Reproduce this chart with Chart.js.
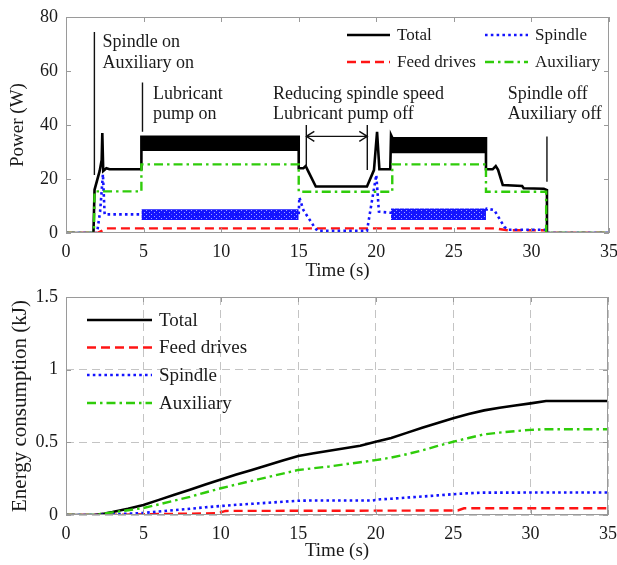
<!DOCTYPE html>
<html>
<head>
<meta charset="utf-8">
<script src="https://cdn.jsdelivr.net/npm/chart.js@4.4.1/dist/chart.umd.min.js"></script>
<style>
    html, body { margin: 0; padding: 0; background: #fff; }
    #wrap { position: relative; width: 617px; height: 565px; }
    canvas { position: absolute; left: 0; }
    #power { top: 0; }
    #energy { top: 282px; }
</style>
</head>
<body>
<div id="wrap">
    <canvas id="power" width="617" height="282"></canvas>
    <canvas id="energy" width="617" height="283"></canvas>
</div>
<script>
// Series names
const seriesNames = ['Total', 'Feed drives', 'Spindle', 'Auxiliary'];

// Power (W) vs time (s)
const totalT = [0, 1.77, 1.84, 2.17, 2.3, 2.34, 2.4, 2.6, 2.8, 4.86, 4.86, 15.0, 15.0, 15.3, 15.45, 15.6, 16.1, 19.4, 19.85, 20.05, 20.2, 20.9, 20.95, 21.05, 27.07, 27.07, 27.5, 27.7, 27.85, 28.15, 29.4, 29.5, 30.8, 31.0, 31.0, 35];
const totalW = [0, 0, 16, 23, 27, 37, 23, 24, 23.6, 23.6, 35.6, 35.6, 24, 24, 24.8, 23, 17.2, 17.2, 23.3, 37.5, 23.6, 23.6, 36.3, 35.1, 35.1, 23.6, 23.6, 24.8, 23.4, 17.8, 17.4, 16.6, 16.4, 15.9, 0, 0];
const feedT = [0, 2.0, 2.3, 2.6, 27.6, 28.5, 30.9, 31.0, 35];
const feedW = [0, 0, 0.8, 1.7, 1.7, 1.0, 1.0, 0, 0];
const spindleT = [0, 2.0, 2.2, 2.38, 2.49, 4.86, 15.0, 15.04, 15.3, 16.0, 16.2, 19.4, 20.0, 20.17, 20.9, 27.07, 27.12, 27.6, 28.25, 28.5, 30.9, 31.0, 35];
const spindleW = [0, 0, 8, 21.8, 6.9, 6.9, 6.9, 13.2, 8.5, 2.3, 0.8, 0.8, 21.5, 7.9, 7.5, 7.5, 9, 8.5, 2.3, 1.2, 1.2, 0, 0];
const auxT = [0, 1.8, 1.84, 4.86, 4.86, 15.0, 15.0, 21.03, 21.03, 27.07, 27.07, 30.95, 30.95, 35];
const auxW = [0, 0, 15.4, 15.4, 25.4, 25.4, 15.3, 15.3, 25.4, 25.4, 15.3, 15.3, 0, 0];

// Fluctuation bands while cutting (min / max of the noisy signal)
const bandStart = [4.86, 20.95];
const bandEnd = [15.0, 27.07];
const totalBandHigh = [35.6, 35.1];
const totalBandLow = [30.4, 29.5];
const spindleBandHigh = [8.8, 9.1];
const spindleBandLow = [4.8, 4.8];

// Energy consumption (kJ) vs time (s), lower plot
const eTotalT = [0, 1.8, 2.5, 3, 4, 5, 6, 7, 8, 9, 10, 11, 12, 13, 14, 15, 16, 17, 18, 19, 20, 21, 22, 23, 24, 25, 26, 27, 28, 29, 30, 31, 35];
const eTotalKJ = [0, 0, 0.01, 0.02, 0.043, 0.069, 0.104, 0.139, 0.174, 0.21, 0.245, 0.278, 0.31, 0.343, 0.375, 0.406, 0.425, 0.442, 0.459, 0.477, 0.504, 0.53, 0.565, 0.6, 0.633, 0.665, 0.695, 0.72, 0.738, 0.753, 0.768, 0.784, 0.784];
const eFeedT = [0, 2, 5, 9.8, 10.3, 25.3, 25.7, 35];
const eFeedKJ = [0, 0, 0.005, 0.012, 0.028, 0.031, 0.046, 0.046];
const eSpindleT = [0, 2, 3, 4, 5, 6, 7, 8, 9, 10, 11, 12, 13, 14, 15, 16, 19.8, 20.3, 21, 22, 23, 24, 25, 26, 27, 35];
const eSpindleKJ = [0, 0, 0.005, 0.009, 0.014, 0.024, 0.034, 0.043, 0.053, 0.062, 0.07, 0.077, 0.084, 0.091, 0.098, 0.1, 0.1, 0.108, 0.112, 0.12, 0.127, 0.135, 0.143, 0.15, 0.154, 0.155];
const eAuxT = [0, 1.8, 3, 4, 5, 6, 7, 8, 9, 10, 11, 12, 13, 14, 15, 16, 17, 18, 19, 20, 21, 22, 23, 24, 25, 26, 27, 28, 29, 30, 31, 35];
const eAuxKJ = [0, 0, 0.018, 0.033, 0.048, 0.073, 0.099, 0.125, 0.155, 0.184, 0.21, 0.235, 0.26, 0.285, 0.31, 0.322, 0.334, 0.349, 0.363, 0.378, 0.395, 0.418, 0.445, 0.475, 0.504, 0.53, 0.555, 0.567, 0.577, 0.586, 0.59, 0.59];

// Tick labels
const timeTickStep = 5;
const powerTickStep = 20;
const energyTickLabels = { 0: '0', 0.5: '0.5', 1: '1', 1.5: '1.5' };

const SERIF = "'Liberation Serif', 'Times New Roman', serif";
const TEXT = '#1a1a1a';

// line styles per series
const styles = [
    { color: '#000000', width: 2.6, dash: [] },
    { color: '#ff1414', width: 2.4, dash: [9, 5] },
    { color: '#1414ff', width: 2.6, dash: [2.6, 3.2] },
    { color: '#2fcc0a', width: 2.4, dash: [9, 4, 2.5, 4] }
];

function pts(ts, vs) {
    return ts.map((t, i) => ({ x: t, y: vs[i] }));
}

function lineSet(idx, ts, vs, order) {
    const s = styles[idx];
    return {
        label: seriesNames[idx],
        data: pts(ts, vs),
        borderColor: s.color,
        borderWidth: s.width,
        borderDash: s.dash,
        pointRadius: 0,
        tension: 0,
        fill: false,
        order: order
    };
}

// speckled blue fill, looks like the dense dotted spindle trace
function dotPattern(color) {
    const c = document.createElement('canvas');
    c.width = 5; c.height = 4;
    const g = c.getContext('2d');
    g.fillStyle = color;
    g.fillRect(0, 0, 5, 4);
    g.fillStyle = 'rgba(255,255,255,0.6)';
    g.fillRect(4, 0, 1, 1);
    g.fillRect(1, 2, 1, 1);
    return g.createPattern(c, 'repeat');
}

// box around the plot + inward tick marks
const frame = {
    id: 'frame',
    afterDraw(chart, args, opts) {
        const { ctx, chartArea: a, scales: { x, y } } = chart;
        const L = 5;
        ctx.save();
        ctx.strokeStyle = opts.color;
        ctx.lineWidth = 1;
        ctx.setLineDash([]);
        ctx.beginPath();
        x.ticks.forEach(t => {
            const px = Math.round(x.getPixelForValue(t.value)) + 0.5;
            ctx.moveTo(px, a.bottom); ctx.lineTo(px, a.bottom - L);
            ctx.moveTo(px, a.top); ctx.lineTo(px, a.top + L);
        });
        y.ticks.forEach(t => {
            const py = Math.round(y.getPixelForValue(t.value)) + 0.5;
            ctx.moveTo(a.left, py); ctx.lineTo(a.left + L, py);
            ctx.moveTo(a.right, py); ctx.lineTo(a.right - L, py);
        });
        ctx.stroke();
        ctx.strokeRect(Math.round(a.left) + 0.5, Math.round(a.top) + 0.5,
            Math.round(a.right - a.left) - 1, Math.round(a.bottom - a.top) - 1);
        ctx.restore();
    }
};

// hand placed legend, styles taken from the datasets
const boxLegend = {
    id: 'boxLegend',
    afterDatasetsDraw(chart, args, opts) {
        const ctx = chart.ctx;
        ctx.save();
        ctx.font = opts.font;
        ctx.textBaseline = 'middle';
        opts.items.forEach(it => {
            const ds = chart.data.datasets[it.index];
            ctx.strokeStyle = ds.borderColor;
            ctx.lineWidth = ds.borderWidth;
            ctx.setLineDash(ds.borderDash || []);
            ctx.beginPath();
            ctx.moveTo(it.x, it.y);
            ctx.lineTo(it.x + opts.lineLen, it.y);
            ctx.stroke();
            ctx.setLineDash([]);
            ctx.fillStyle = TEXT;
            ctx.fillText(ds.label, it.x + opts.lineLen + opts.gap, it.y + 1);
        });
        ctx.restore();
    }
};

// event annotations on the power plot (data coordinates)
const notes = {
    id: 'notes',
    afterDatasetsDraw(chart, args, opts) {
        if (!opts.texts) return;
        const { ctx, scales: { x, y } } = chart;
        const X = v => x.getPixelForValue(v), Y = v => y.getPixelForValue(v);
        ctx.save();
        ctx.strokeStyle = '#111';
        ctx.lineWidth = 1.4;
        ctx.beginPath();
        opts.lines.forEach(([t1, w1, t2, w2]) => {
            ctx.moveTo(X(t1), Y(w1)); ctx.lineTo(X(t2), Y(w2));
        });
        opts.arrows.forEach(([t1, t2, w]) => {
            const x1 = X(t1), x2 = X(t2), py = Y(w), h = 8, d = 5;
            ctx.moveTo(x1, py); ctx.lineTo(x2, py);
            ctx.moveTo(x1 + h, py - d); ctx.lineTo(x1, py); ctx.lineTo(x1 + h, py + d);
            ctx.moveTo(x2 - h, py - d); ctx.lineTo(x2, py); ctx.lineTo(x2 - h, py + d);
        });
        ctx.stroke();
        ctx.font = opts.font;
        ctx.fillStyle = TEXT;
        ctx.textBaseline = 'middle';
        ctx.textAlign = 'left';
        opts.texts.forEach(([s, t, w]) => ctx.fillText(s, X(t), Y(w)));
        ctx.restore();
    }
};

function timeAxis(h, titlePadBottom) {
    return {
        type: 'linear', min: 0, max: 35,
        ticks: { stepSize: timeTickStep, padding: 8, maxRotation: 0, autoSkip: false,
            color: TEXT, font: { family: SERIF, size: 18 } },
        grid: { display: false, drawTicks: false },
        border: { display: false },
        title: { display: true, text: 'Time (s)', color: TEXT,
            font: { family: SERIF, size: 19 }, padding: { top: 0, bottom: titlePadBottom } },
        afterFit(s) { s.height = h; s.paddingLeft = 0; s.paddingRight = 0; }
    };
}

// ---------- power chart ----------
const powerSets = [
    lineSet(0, totalT, totalW, 4),
    lineSet(1, feedT, feedW, 3),
    lineSet(2, spindleT, spindleW, 2),
    lineSet(3, auxT, auxW, 1)
];
const spindleFill = dotPattern('#1414ff');
bandStart.forEach((t0, i) => {
    const ts = [t0, bandEnd[i]];
    const lowIdx = powerSets.length;
    powerSets.push({ data: pts(ts, [totalBandLow[i], totalBandLow[i]]), borderWidth: 0, pointRadius: 0, fill: false, order: 5 });
    powerSets.push({ data: pts(ts, [totalBandHigh[i], totalBandHigh[i]]), borderWidth: 0, pointRadius: 0,
        fill: lowIdx, backgroundColor: '#000000', order: 5 });
    const lowIdx2 = powerSets.length;
    powerSets.push({ data: pts(ts, [spindleBandLow[i], spindleBandLow[i]]), borderWidth: 0, pointRadius: 0, fill: false, order: 2.5 });
    powerSets.push({ data: pts(ts, [spindleBandHigh[i], spindleBandHigh[i]]), borderWidth: 0, pointRadius: 0,
        fill: lowIdx2, backgroundColor: spindleFill, order: 2.5 });
});

new Chart(document.getElementById('power'), {
    type: 'line',
    data: { datasets: powerSets },
    options: {
        responsive: false,
        animation: false,
        layout: { padding: { top: 17, right: 8, bottom: 0, left: 0 } },
        scales: {
            x: timeAxis(49, 0),
            y: {
                min: 0, max: 80,
                ticks: { stepSize: powerTickStep, padding: 8, color: TEXT, font: { family: SERIF, size: 18 } },
                grid: { display: false, drawTicks: false },
                border: { display: false },
                title: { display: true, text: 'Power (W)', color: TEXT,
                    font: { family: SERIF, size: 19 }, padding: { top: 7, bottom: 0 } },
                afterFit(s) { s.width = 66; s.paddingTop = 0; s.paddingBottom = 0; }
            }
        },
        plugins: {
            legend: { display: false },
            tooltip: { enabled: false },
            frame: { color: '#9a9a9a' },
            boxLegend: {
                font: '17px ' + SERIF, lineLen: 43, gap: 7,
                items: [
                    { index: 0, x: 347, y: 35 },
                    { index: 1, x: 347, y: 62 },
                    { index: 2, x: 485, y: 35 },
                    { index: 3, x: 485, y: 62 }
                ]
            },
            notes: {
                font: '18px ' + SERIF,
                lines: [
                    [1.83, 74.4, 1.83, 21.5],
                    [4.93, 55.7, 4.93, 37.5],
                    [15.49, 40, 15.49, 24.4],
                    [19.42, 40, 19.42, 23.3],
                    [31.0, 35.7, 31.0, 19]
                ],
                arrows: [[15.49, 19.42, 35.8]],
                texts: [
                    ['Spindle on', 2.36, 70.5],
                    ['Auxiliary on', 2.36, 63],
                    ['Lubricant', 5.6, 51.2],
                    ['pump on', 5.6, 43.8],
                    ['Reducing spindle speed', 13.35, 51.4],
                    ['Lubricant pump off', 13.35, 44],
                    ['Spindle off', 28.47, 51.2],
                    ['Auxiliary off', 28.47, 43.8]
                ]
            }
        }
    },
    plugins: [frame, boxLegend, notes]
});

// ---------- energy chart ----------
const energySets = [
    lineSet(0, eTotalT, eTotalKJ, 4),
    lineSet(1, eFeedT, eFeedKJ, 3),
    lineSet(2, eSpindleT, eSpindleKJ, 2),
    lineSet(3, eAuxT, eAuxKJ, 1)
];

const energyX = timeAxis(50, 3);
energyX.grid = { display: true, color: '#c4c4c4', lineWidth: 1, drawTicks: false };
energyX.border = { display: false, dash: [8, 5] };

new Chart(document.getElementById('energy'), {
    type: 'line',
    data: { datasets: energySets },
    options: {
        responsive: false,
        animation: false,
        layout: { padding: { top: 15, right: 9, bottom: 0, left: 0 } },
        scales: {
            x: energyX,
            y: {
                min: 0, max: 1.5,
                ticks: { stepSize: 0.5, padding: 8, color: TEXT, font: { family: SERIF, size: 18 },
                    callback: v => energyTickLabels[v] },
                grid: { display: true, color: '#c4c4c4', lineWidth: 1, drawTicks: false },
                border: { display: false, dash: [8, 5] },
                title: { display: true, text: 'Energy consumption (kJ)', color: TEXT,
                    font: { family: SERIF, size: 21 }, padding: { top: 8, bottom: 0 } },
                afterFit(s) { s.width = 66; s.paddingTop = 0; s.paddingBottom = 0; }
            }
        },
        plugins: {
            legend: { display: false },
            tooltip: { enabled: false },
            frame: { color: '#9a9a9a' },
            boxLegend: {
                font: '19px ' + SERIF, lineLen: 65, gap: 7,
                items: [
                    { index: 0, x: 87, y: 38 },
                    { index: 1, x: 87, y: 65.5 },
                    { index: 2, x: 87, y: 93 },
                    { index: 3, x: 87, y: 121 }
                ]
            }
        }
    },
    plugins: [frame, boxLegend, notes]
});
</script>
</body>
</html>
